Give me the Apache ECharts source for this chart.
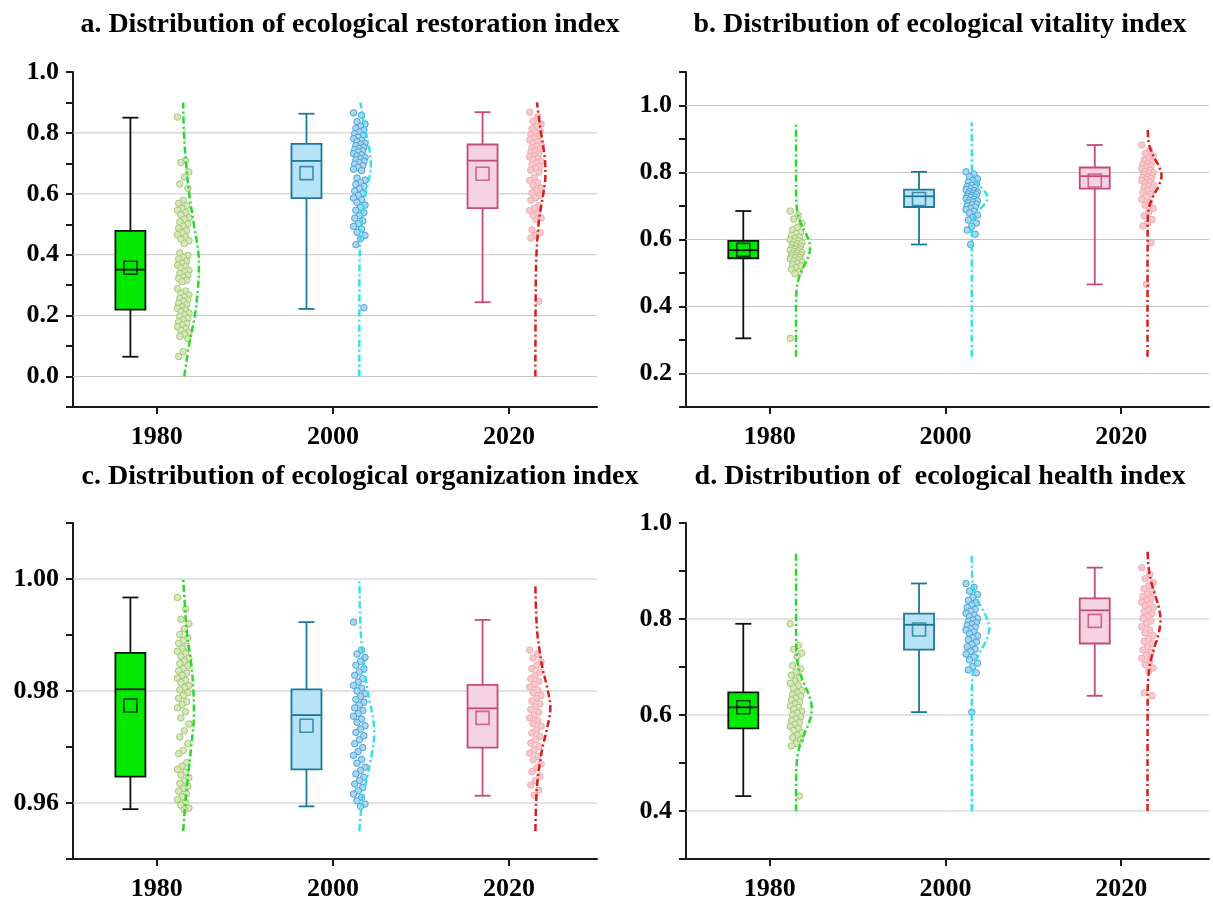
<!DOCTYPE html>
<html>
<head>
<meta charset="utf-8">
<script src="https://cdn.jsdelivr.net/npm/echarts@6.0.0/dist/echarts.min.js"></script>
<style>
html, body { margin: 0; padding: 0; background: #fff; }
#main { width: 1213px; height: 906px; }
</style>
</head>
<body>
<div id="main"></div>
<script>
// categories
var years = ['1980', '2000', '2020'];

// tick labels of each y axis
var restorationTicks = [0.0, 0.2, 0.4, 0.6, 0.8, 1.0];
var vitalityTicks = [0.2, 0.4, 0.6, 0.8, 1.0];
var organizationTicks = [0.96, 0.98, 1.00];
var healthTicks = [0.4, 0.6, 0.8, 1.0];

// box stats: [min, Q1, median, Q3, max] per year, and means
var restorationStats = [[0.065, 0.22, 0.351, 0.478, 0.85], [0.222, 0.586, 0.708, 0.764, 0.863], [0.244, 0.553, 0.709, 0.762, 0.868]];
var restorationMeans = [0.357, 0.668, 0.666];
var vitalityStats = [[0.305, 0.544, 0.568, 0.596, 0.685], [0.585, 0.697, 0.729, 0.749, 0.802], [0.466, 0.752, 0.789, 0.815, 0.882]];
var vitalityMeans = [0.569, 0.721, 0.776];
var organizationStats = [[0.9589, 0.9647, 0.9803, 0.9868, 0.9967], [0.9594, 0.966, 0.9757, 0.9803, 0.9923], [0.9613, 0.9699, 0.9769, 0.9811, 0.9927]];
var organizationMeans = [0.9774, 0.9738, 0.9752];
var healthStats = [[0.431, 0.572, 0.616, 0.647, 0.79], [0.606, 0.736, 0.788, 0.811, 0.874], [0.64, 0.749, 0.818, 0.843, 0.907]];
var healthMeans = [0.616, 0.778, 0.796];

// raw points
var restoration1980 = [0.852, 0.71, 0.703, 0.672, 0.655, 0.632, 0.618, 0.578, 0.569, 0.561, 0.552, 0.546, 0.538, 0.531, 0.522, 0.517, 0.508, 0.501, 0.494, 0.487, 0.479, 0.472, 0.466, 0.458, 0.451, 0.446, 0.437, 0.405, 0.398, 0.391, 0.386, 0.379, 0.372, 0.366, 0.361, 0.356, 0.349, 0.344, 0.338, 0.333, 0.327, 0.322, 0.316, 0.311, 0.288, 0.281, 0.273, 0.268, 0.262, 0.256, 0.251, 0.246, 0.24, 0.236, 0.229, 0.224, 0.219, 0.213, 0.208, 0.202, 0.197, 0.191, 0.186, 0.18, 0.174, 0.169, 0.163, 0.157, 0.151, 0.146, 0.139, 0.132, 0.124, 0.082, 0.066];
var restoration2000 = [0.866, 0.858, 0.837, 0.829, 0.822, 0.815, 0.809, 0.803, 0.797, 0.791, 0.786, 0.781, 0.776, 0.771, 0.766, 0.762, 0.758, 0.753, 0.749, 0.745, 0.741, 0.737, 0.732, 0.728, 0.724, 0.719, 0.715, 0.711, 0.707, 0.702, 0.697, 0.692, 0.687, 0.681, 0.676, 0.652, 0.645, 0.637, 0.631, 0.624, 0.617, 0.609, 0.601, 0.594, 0.586, 0.58, 0.572, 0.563, 0.555, 0.546, 0.538, 0.529, 0.52, 0.511, 0.502, 0.493, 0.484, 0.474, 0.463, 0.452, 0.433, 0.226];
var restoration2020 = [0.868, 0.852, 0.838, 0.829, 0.821, 0.814, 0.807, 0.801, 0.795, 0.789, 0.783, 0.777, 0.771, 0.766, 0.761, 0.756, 0.751, 0.746, 0.741, 0.736, 0.731, 0.726, 0.721, 0.716, 0.711, 0.706, 0.701, 0.696, 0.69, 0.684, 0.677, 0.671, 0.652, 0.644, 0.636, 0.628, 0.619, 0.611, 0.603, 0.595, 0.587, 0.579, 0.561, 0.553, 0.545, 0.537, 0.529, 0.521, 0.515, 0.482, 0.472, 0.463, 0.455, 0.247];
var vitality1980 = [0.685, 0.672, 0.661, 0.648, 0.636, 0.629, 0.622, 0.617, 0.612, 0.607, 0.603, 0.599, 0.596, 0.593, 0.59, 0.587, 0.584, 0.581, 0.578, 0.575, 0.573, 0.571, 0.568, 0.566, 0.564, 0.561, 0.559, 0.557, 0.554, 0.552, 0.55, 0.547, 0.545, 0.542, 0.539, 0.536, 0.533, 0.529, 0.525, 0.521, 0.516, 0.511, 0.505, 0.498, 0.305];
var vitality2000 = [0.802, 0.795, 0.788, 0.781, 0.776, 0.771, 0.766, 0.762, 0.758, 0.755, 0.752, 0.749, 0.746, 0.743, 0.741, 0.738, 0.736, 0.734, 0.731, 0.729, 0.727, 0.725, 0.722, 0.72, 0.717, 0.715, 0.712, 0.709, 0.706, 0.703, 0.7, 0.697, 0.693, 0.689, 0.684, 0.679, 0.673, 0.666, 0.658, 0.649, 0.639, 0.628, 0.616, 0.585];
var vitality2020 = [0.882, 0.866, 0.857, 0.849, 0.843, 0.837, 0.832, 0.827, 0.823, 0.819, 0.815, 0.811, 0.807, 0.803, 0.8, 0.797, 0.794, 0.791, 0.788, 0.785, 0.782, 0.779, 0.776, 0.772, 0.768, 0.764, 0.76, 0.756, 0.752, 0.747, 0.741, 0.735, 0.728, 0.72, 0.711, 0.702, 0.693, 0.682, 0.671, 0.66, 0.648, 0.64, 0.59, 0.466];
var organization1980 = [0.9967, 0.9946, 0.9928, 0.992, 0.9911, 0.9901, 0.9895, 0.989, 0.9885, 0.988, 0.9876, 0.9871, 0.9867, 0.9862, 0.9858, 0.9853, 0.9849, 0.9845, 0.984, 0.9836, 0.9832, 0.9828, 0.9823, 0.9819, 0.9815, 0.981, 0.9806, 0.9802, 0.9797, 0.9792, 0.9787, 0.9781, 0.9776, 0.977, 0.9763, 0.9752, 0.9741, 0.9729, 0.9718, 0.9706, 0.9694, 0.9688, 0.9672, 0.9666, 0.966, 0.9655, 0.965, 0.9645, 0.964, 0.9635, 0.963, 0.9626, 0.9621, 0.9616, 0.9611, 0.9606, 0.9601, 0.9596, 0.9591, 0.9588];
var organization2000 = [0.9923, 0.9873, 0.9866, 0.986, 0.9853, 0.9846, 0.984, 0.9834, 0.9828, 0.9822, 0.9816, 0.981, 0.9805, 0.98, 0.9795, 0.979, 0.9785, 0.978, 0.9775, 0.977, 0.9765, 0.976, 0.9755, 0.975, 0.9744, 0.9738, 0.9732, 0.9726, 0.972, 0.9713, 0.9706, 0.9699, 0.9692, 0.9685, 0.9678, 0.9671, 0.9664, 0.9658, 0.9652, 0.9646, 0.964, 0.9634, 0.9628, 0.9622, 0.9616, 0.961, 0.9604, 0.9598, 0.9594];
var organization2020 = [0.9873, 0.9866, 0.9859, 0.9852, 0.9846, 0.984, 0.9834, 0.9828, 0.9822, 0.9817, 0.9812, 0.9807, 0.9802, 0.9797, 0.9792, 0.9787, 0.9782, 0.9777, 0.9772, 0.9767, 0.9762, 0.9757, 0.9752, 0.9747, 0.9742, 0.9737, 0.9731, 0.9725, 0.9719, 0.9713, 0.9707, 0.9701, 0.9695, 0.9689, 0.9683, 0.9677, 0.967, 0.9663, 0.9656, 0.9648, 0.964, 0.9632, 0.9623, 0.9614];
var health1980 = [0.79, 0.745, 0.737, 0.729, 0.722, 0.703, 0.696, 0.689, 0.683, 0.677, 0.671, 0.666, 0.661, 0.656, 0.651, 0.647, 0.643, 0.639, 0.635, 0.631, 0.627, 0.623, 0.619, 0.616, 0.612, 0.608, 0.604, 0.6, 0.596, 0.592, 0.588, 0.584, 0.58, 0.576, 0.572, 0.568, 0.563, 0.558, 0.553, 0.548, 0.541, 0.536, 0.431];
var health2000 = [0.874, 0.866, 0.858, 0.851, 0.845, 0.839, 0.834, 0.829, 0.824, 0.82, 0.816, 0.812, 0.808, 0.805, 0.801, 0.798, 0.795, 0.792, 0.789, 0.786, 0.783, 0.78, 0.777, 0.773, 0.769, 0.765, 0.761, 0.757, 0.752, 0.747, 0.742, 0.737, 0.732, 0.727, 0.721, 0.715, 0.708, 0.701, 0.694, 0.688, 0.606];
var health2020 = [0.907, 0.893, 0.884, 0.876, 0.869, 0.863, 0.857, 0.852, 0.847, 0.843, 0.839, 0.835, 0.831, 0.827, 0.823, 0.819, 0.815, 0.811, 0.806, 0.801, 0.796, 0.79, 0.784, 0.777, 0.771, 0.765, 0.759, 0.753, 0.748, 0.742, 0.736, 0.73, 0.724, 0.718, 0.712, 0.705, 0.698, 0.691, 0.646, 0.64];

// fitted distribution curves: [value, density width in category units]
var restorationCurve1980 = [[0.0, 0.006], [0.1, 0.032], [0.2, 0.066], [0.3, 0.085], [0.36, 0.089], [0.4, 0.087], [0.5, 0.06], [0.6, 0.034], [0.7, 0.016], [0.8, 0.004], [0.9, 0.0]];
var restorationCurve2000 = [[0.0, 0.0], [0.35, 0.001], [0.45, 0.006], [0.5, 0.013], [0.55, 0.023], [0.6, 0.036], [0.65, 0.056], [0.69, 0.066], [0.75, 0.056], [0.8, 0.038], [0.85, 0.02], [0.9, 0.006]];
var restorationCurve2020 = [[0.0, 0.0], [0.3, 0.002], [0.4, 0.006], [0.5, 0.018], [0.55, 0.03], [0.6, 0.045], [0.66, 0.057], [0.72, 0.053], [0.8, 0.032], [0.85, 0.02], [0.9, 0.009]];
var vitalityCurve1980 = [[0.25, 0.0], [0.4, 0.0], [0.45, 0.003], [0.475, 0.011], [0.5, 0.026], [0.525, 0.049], [0.55, 0.071], [0.575, 0.08], [0.6, 0.071], [0.625, 0.049], [0.65, 0.026], [0.675, 0.011], [0.7, 0.003], [0.75, 0.0], [0.95, 0.0]];
var vitalityCurve2000 = [[0.25, 0.0], [0.635, 0.0], [0.65, 0.004], [0.665, 0.012], [0.68, 0.029], [0.695, 0.055], [0.71, 0.079], [0.725, 0.09], [0.74, 0.079], [0.755, 0.055], [0.77, 0.029], [0.785, 0.012], [0.8, 0.004], [0.82, 0.0], [0.95, 0.0]];
var vitalityCurve2020 = [[0.25, 0.0], [0.65, 0.001], [0.68, 0.004], [0.7, 0.011], [0.72, 0.024], [0.74, 0.043], [0.76, 0.064], [0.79, 0.08], [0.82, 0.064], [0.84, 0.043], [0.86, 0.024], [0.88, 0.011], [0.9, 0.004], [0.935, 0.001]];
var organizationCurve1980 = [[0.955, 0.0], [0.96, 0.012], [0.965, 0.028], [0.97, 0.045], [0.976, 0.061], [0.98, 0.058], [0.985, 0.045], [0.99, 0.022], [0.995, 0.01], [1.0, 0.0]];
var organizationCurve2000 = [[0.955, 0.0], [0.958, 0.008], [0.961, 0.017], [0.964, 0.04], [0.9665, 0.057], [0.9695, 0.075], [0.9724, 0.085], [0.9755, 0.077], [0.9784, 0.057], [0.9815, 0.04], [0.9843, 0.028], [0.988, 0.014], [0.992, 0.006], [1.0, 0.0]];
var organizationCurve2020 = [[0.955, 0.0], [0.96, 0.004], [0.964, 0.012], [0.967, 0.025], [0.97, 0.041], [0.973, 0.064], [0.977, 0.085], [0.981, 0.064], [0.984, 0.041], [0.987, 0.025], [0.99, 0.012], [0.994, 0.004], [0.999, 0.0]];
var healthCurve1980 = [[0.4, 0.0], [0.48, 0.001], [0.5, 0.004], [0.52, 0.011], [0.54, 0.025], [0.56, 0.046], [0.585, 0.075], [0.612, 0.09], [0.64, 0.075], [0.665, 0.046], [0.685, 0.025], [0.705, 0.011], [0.725, 0.004], [0.75, 0.001], [0.94, 0.0]];
var healthCurve2000 = [[0.4, 0.0], [0.64, 0.0], [0.66, 0.001], [0.68, 0.004], [0.7, 0.013], [0.72, 0.032], [0.74, 0.061], [0.76, 0.088], [0.78, 0.1], [0.8, 0.088], [0.82, 0.061], [0.84, 0.032], [0.86, 0.013], [0.88, 0.004], [0.9, 0.001], [0.935, 0.0]];
var healthCurve2020 = [[0.4, 0.0], [0.65, 0.001], [0.67, 0.003], [0.7, 0.011], [0.72, 0.023], [0.745, 0.043], [0.77, 0.064], [0.797, 0.074], [0.825, 0.064], [0.85, 0.043], [0.875, 0.023], [0.895, 0.011], [0.92, 0.003], [0.94, 0.001]];

// styling
var FONT = 'Liberation Serif';
var boxFill = ['#00ea00', '#b6e3f6', '#f6d3e1'];
var boxLine = ['#111111', '#1f7898', '#c24a7c'];
var ptFill = ['#d7e8bb', '#a9d7f1', '#f7c9cd'];
var ptLine = ['#9cc26c', '#3d9bd6', '#efa6ae'];
var curveColor = ['#2ad82a', '#33e0ea', '#dc1a1a'];
var BOX_OFF = -0.15, PT_OFF = 0.15;

var panels = [
  {title: 'a. Distribution of ecological restoration index', tx: 345, ty: 6,
   grid: {left: 73, top: 72, width: 524, height: 335}, min: -0.1, max: 1.0, step: 0.1, digits: 1,
   ticks: restorationTicks, stats: restorationStats, means: restorationMeans,
   pts: [restoration1980, restoration2000, restoration2020],
   curves: [restorationCurve1980, restorationCurve2000, restorationCurve2020]},
  {title: 'b. Distribution of ecological vitality index', tx: 935, ty: 6,
   grid: {left: 686, top: 72, width: 523, height: 335}, min: 0.1, max: 1.1, step: 0.1, digits: 1,
   ticks: vitalityTicks, stats: vitalityStats, means: vitalityMeans,
   pts: [vitality1980, vitality2000, vitality2020],
   curves: [vitalityCurve1980, vitalityCurve2000, vitalityCurve2020]},
  {title: 'c. Distribution of ecological organization index', tx: 355, ty: 458,
   grid: {left: 73, top: 523, width: 524, height: 336}, min: 0.95, max: 1.01, step: 0.01, digits: 2,
   ticks: organizationTicks, stats: organizationStats, means: organizationMeans,
   pts: [organization1980, organization2000, organization2020],
   curves: [organizationCurve1980, organizationCurve2000, organizationCurve2020]},
  {title: 'd. Distribution of  ecological health index', tx: 935, ty: 458,
   grid: {left: 686, top: 523, width: 523, height: 336}, min: 0.3, max: 1.0, step: 0.1, digits: 1,
   ticks: healthTicks, stats: healthStats, means: healthMeans,
   pts: [health1980, health2000, health2020],
   curves: [healthCurve1980, healthCurve2000, healthCurve2020]}
];

function jitter(j) {
  return (((j * 7) % 11) / 10 - 0.5) * 0.065;
}

function renderGridLine(params, api) {
  var y = api.coord([1, api.value(1)])[1];
  var cs = params.coordSys;
  return {type: 'line', shape: {x1: cs.x, y1: y, x2: cs.x + cs.width, y2: y},
          style: {stroke: '#c6c6c6', lineWidth: 1}};
}

function renderBox(params, api) {
  var i = params.dataIndex;
  var x = api.value(0);
  var ys = [1, 2, 3, 4, 5].map(function (d) { return api.coord([x, api.value(d)])[1]; });
  var cx = api.coord([x, api.value(3)])[0];
  var hw = 15, cw = 8, col = boxLine[i];
  function ln(x1, y1, x2, y2) {
    return {type: 'line', shape: {x1: x1, y1: y1, x2: x2, y2: y2}, style: {stroke: col, lineWidth: 1.8}};
  }
  return {type: 'group', children: [
    ln(cx, ys[0], cx, ys[1]),
    ln(cx, ys[3], cx, ys[4]),
    ln(cx - cw, ys[0], cx + cw, ys[0]),
    ln(cx - cw, ys[4], cx + cw, ys[4]),
    {type: 'rect', shape: {x: cx - hw, y: ys[3], width: 2 * hw, height: ys[1] - ys[3]},
     style: {fill: boxFill[i], stroke: col, lineWidth: 1.8}},
    ln(cx - hw, ys[2], cx + hw, ys[2])
  ]};
}

var grids = [], xAxes = [], yAxes = [], titles = [], series = [];

panels.forEach(function (p, k) {
  grids.push(p.grid);
  titles.push({text: p.title, left: p.tx, top: p.ty, textAlign: 'center',
    textStyle: {fontFamily: FONT, fontWeight: 'bold', fontSize: 28, color: '#000'}});
  xAxes.push({
    type: 'value', gridIndex: k, min: 0.524, max: 3.5,
    axisLine: {onZero: false, lineStyle: {color: '#1a1a1a', width: 2}},
    axisTick: {customValues: [1, 2, 3], length: 7, lineStyle: {color: '#1a1a1a', width: 2}},
    axisLabel: {customValues: [1, 2, 3], margin: 17, fontFamily: FONT, fontWeight: 'bold', fontSize: 26, color: '#000',
      formatter: function (v) { var n = Math.round(v); return Math.abs(v - n) < 1e-6 && years[n - 1] ? years[n - 1] : ''; }},
    splitLine: {show: false}
  });
  var ticks = p.ticks, digits = p.digits;
  yAxes.push({
    type: 'value', gridIndex: k, min: p.min, max: p.max, interval: p.step,
    axisLine: {show: true, onZero: false, lineStyle: {color: '#1a1a1a', width: 2}},
    axisTick: {show: true, length: 7, lineStyle: {color: '#1a1a1a', width: 2}},
    axisLabel: {margin: 14, fontFamily: FONT, fontWeight: 'bold', fontSize: 26, color: '#000',
      formatter: function (v) {
        for (var t = 0; t < ticks.length; t++) {
          if (Math.abs(ticks[t] - v) < 1e-7) return v.toFixed(digits);
        }
        return '';
      }},
    splitLine: {show: false}
  });

  series.push({
    type: 'custom', xAxisIndex: k, yAxisIndex: k, z: 1, silent: true,
    data: ticks.filter(function (t) { return t < p.max - 1e-9; }).map(function (t) { return [1, t]; }),
    encode: {x: 0, y: 1},
    renderItem: renderGridLine
  });
  series.push({
    type: 'custom', xAxisIndex: k, yAxisIndex: k, z: 2, silent: true,
    data: p.stats.map(function (s, i) { return [i + 1 + BOX_OFF].concat(s); }),
    encode: {x: 0, y: [1, 2, 3, 4, 5]},
    renderItem: renderBox
  });
  for (var i = 0; i < 3; i++) {
    (function (i) {
      series.push({
        type: 'scatter', xAxisIndex: k, yAxisIndex: k, z: 3, silent: true,
        symbolSize: 6.5,
        itemStyle: {color: ptFill[i], borderColor: ptLine[i], borderWidth: 0.9, opacity: 1},
        data: p.pts[i].map(function (v, j) { return [i + 1 + PT_OFF + jitter(j), v]; })
      });
      series.push({
        type: 'line', xAxisIndex: k, yAxisIndex: k, z: 4, silent: true,
        symbol: 'none', smooth: 0.35,
        lineStyle: {color: curveColor[i], width: 2.5, type: [7, 3, 2, 3]},
        data: p.curves[i].map(function (c) { return [i + 1 + PT_OFF + c[1], c[0]]; })
      });
    })(i);
  }
  series.push({
    type: 'scatter', xAxisIndex: k, yAxisIndex: k, z: 5, silent: true,
    symbol: 'rect', symbolSize: 13,
    data: p.means.map(function (m, i) {
      return {value: [i + 1 + BOX_OFF, m], itemStyle: {color: 'rgba(0,0,0,0)', borderColor: boxLine[i], borderWidth: 1.6}};
    })
  });
});

var myChart = echarts.init(document.getElementById('main'));
var option = {
  backgroundColor: '#ffffff',
  animation: false,
  title: titles,
  grid: grids,
  xAxis: xAxes,
  yAxis: yAxes,
  series: series
};
myChart.setOption(option);
window.onresize = myChart.resize;
</script>
</body>
</html>
